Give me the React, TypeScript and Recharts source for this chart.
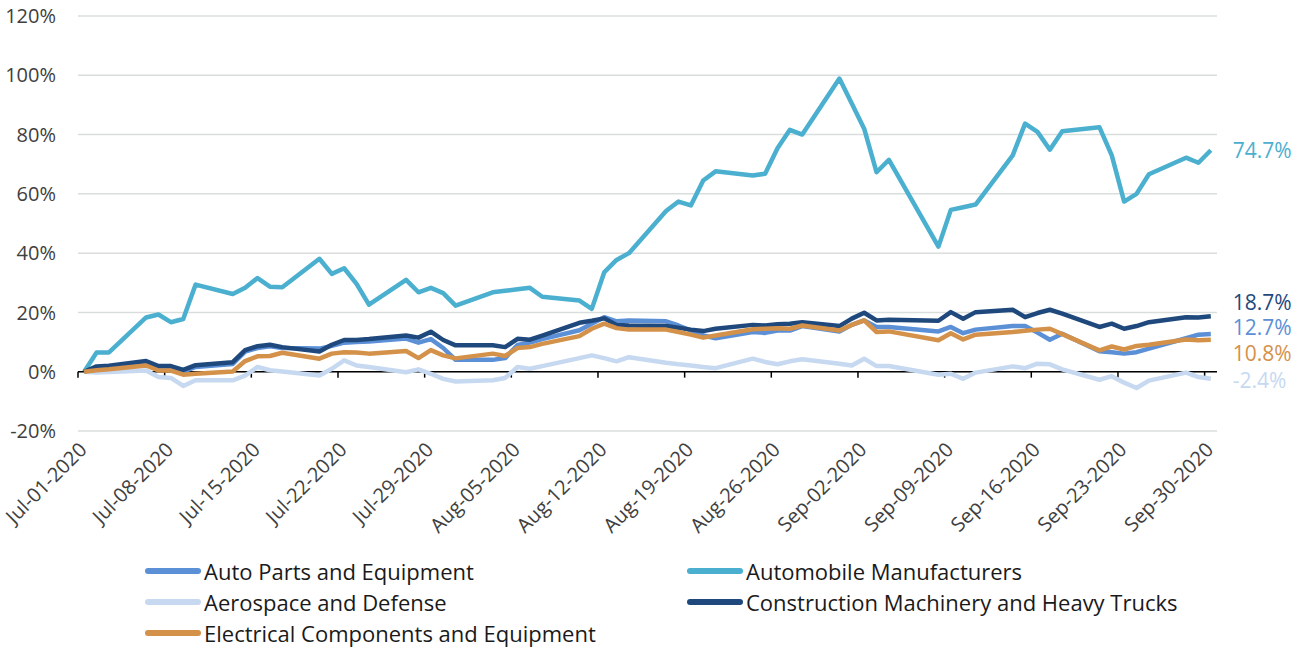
import { LineChart, Line, XAxis, YAxis, CartesianGrid, ReferenceLine } from 'recharts';

// trading days shown in the chart (Jul 3 kept, Labor Day missing)
const dates = [
  '2020-07-01', '2020-07-02', '2020-07-03', '2020-07-06', '2020-07-07', '2020-07-08', '2020-07-09', '2020-07-10',
  '2020-07-13', '2020-07-14', '2020-07-15', '2020-07-16', '2020-07-17', '2020-07-20', '2020-07-21', '2020-07-22',
  '2020-07-23', '2020-07-24', '2020-07-27', '2020-07-28', '2020-07-29', '2020-07-30', '2020-07-31',
  '2020-08-03', '2020-08-04', '2020-08-05', '2020-08-06', '2020-08-07', '2020-08-10', '2020-08-11', '2020-08-12',
  '2020-08-13', '2020-08-14', '2020-08-17', '2020-08-18', '2020-08-19', '2020-08-20', '2020-08-21', '2020-08-24',
  '2020-08-25', '2020-08-26', '2020-08-27', '2020-08-28', '2020-08-31',
  '2020-09-01', '2020-09-02', '2020-09-03', '2020-09-04', '2020-09-08', '2020-09-09', '2020-09-10', '2020-09-11',
  '2020-09-14', '2020-09-15', '2020-09-16', '2020-09-17', '2020-09-18', '2020-09-21', '2020-09-22', '2020-09-23',
  '2020-09-24', '2020-09-25', '2020-09-28', '2020-09-29', '2020-09-30',
];

const autoParts = [
  0, 1.2, 1.5, 2.8, 1.2, 1.0, 0.0, 1.6, 2.6, 6.8, 8.0, 8.6, 8.0, 7.8, 8.7, 9.8, 10.0, 10.2, 11.2, 9.8, 11.0, 8.0, 4.0,
  4.0, 4.6, 9.0, 9.8, 11.0, 14.0, 16.2, 18.4, 17.0, 17.3, 17.0, 15.6, 13.9, 12.2, 11.3, 13.4, 13.1, 13.9, 13.9, 15.4, 13.6,
  15.8, 17.3, 15.1, 15.1, 13.6, 15.1, 13.0, 14.2, 15.4, 15.4, 13.2, 10.8, 12.8, 6.9, 6.6, 6.1, 6.6, 7.8, 11.3, 12.5, 12.7,
];
const autoMakers = [
  0, 6.5, 6.5, 18.3, 19.3, 16.7, 17.8, 29.4, 26.2, 28.3, 31.6, 28.7, 28.5, 38.1, 33.0, 34.9, 29.6, 22.6, 31.0, 26.8, 28.3, 26.5, 22.3,
  26.8, 27.3, 27.8, 28.3, 25.3, 24.0, 21.2, 33.5, 37.7, 40.0, 54.2, 57.4, 56.1, 64.5, 67.6, 66.2, 66.8, 75.4, 81.6, 80.0, 98.9,
  90.5, 82.0, 67.3, 71.5, 42.2, 54.6, 55.5, 56.4, 73.0, 83.7, 80.9, 74.9, 81.1, 82.5, 73.0, 57.4, 60.0, 66.6, 72.2, 70.5, 74.7,
];
const aerospace = [
  0, -0.3, -0.1, 0.4, -1.8, -2.1, -4.8, -2.9, -2.9, -1.3, 1.6, 0.5, 0.1, -1.3, 1.0, 3.8, 2.1, 1.6, -0.2, 0.8, -0.7, -2.4, -3.3,
  -2.9, -2.1, 1.6, 1.0, 1.9, 4.6, 5.5, 4.6, 3.5, 4.9, 3.0, 2.5, 2.1, 1.6, 1.2, 4.4, 3.3, 2.5, 3.5, 4.2, 2.7,
  2.1, 4.4, 1.9, 1.9, -1.0, -0.7, -2.4, -0.3, 1.8, 1.2, 2.7, 2.5, 0.8, -2.7, -1.5, -3.7, -5.5, -3.0, -0.3, -1.8, -2.4,
];
const construction = [
  0, 1.8, 2.0, 3.6, 1.9, 1.9, 0.6, 2.2, 3.2, 7.3, 8.6, 9.1, 8.3, 6.8, 9.1, 10.7, 10.7, 11.0, 12.2, 11.5, 13.5, 10.7, 8.9,
  8.9, 8.3, 11.1, 10.8, 12.2, 16.5, 17.2, 18.0, 15.8, 15.6, 15.4, 14.8, 14.2, 13.7, 14.5, 15.8, 15.6, 16.0, 16.2, 16.7, 15.4,
  17.9, 19.9, 17.3, 17.5, 17.2, 20.1, 17.9, 20.1, 20.9, 18.4, 19.8, 20.9, 19.6, 15.1, 16.2, 14.5, 15.4, 16.7, 18.4, 18.3, 18.7,
];
const electrical = [
  0, 0.5, 0.8, 2.1, 0.4, 0.4, -1.0, -0.7, 0.1, 3.6, 5.2, 5.3, 6.4, 4.4, 6.1, 6.6, 6.5, 6.1, 7.0, 4.6, 7.3, 5.5, 4.5,
  6.1, 5.3, 8.0, 8.3, 9.4, 12.0, 14.5, 16.2, 14.7, 14.2, 14.2, 13.4, 12.5, 11.5, 12.2, 14.3, 14.5, 14.7, 14.5, 15.6, 13.9,
  15.8, 17.3, 13.4, 13.6, 10.6, 13.0, 10.9, 12.5, 13.4, 13.8, 14.2, 14.5, 12.7, 7.2, 8.5, 7.5, 8.7, 9.1, 10.9, 10.6, 10.8,
];

const weekLabels = [
  'Jul-01-2020', 'Jul-08-2020', 'Jul-15-2020', 'Jul-22-2020', 'Jul-29-2020', 'Aug-05-2020', 'Aug-12-2020',
  'Aug-19-2020', 'Aug-26-2020', 'Sep-02-2020', 'Sep-09-2020', 'Sep-16-2020', 'Sep-23-2020', 'Sep-30-2020',
];
const yTicks = [-20, 0, 20, 40, 60, 80, 100, 120];

const FONT = '"Open Sans", "Noto Sans", sans-serif';
const START = Date.UTC(2020, 6, 1);
const dayOf = (d: string) => (Date.parse(d + 'T00:00:00Z') - START) / 86400000;

const series = [
  { key: 'autoParts', name: 'Auto Parts and Equipment', color: '#5B8FD6', values: autoParts, dy: -6 },
  { key: 'autoMakers', name: 'Automobile Manufacturers', color: '#4BAFCF', values: autoMakers, dy: 0 },
  { key: 'aerospace', name: 'Aerospace and Defense', color: '#C6D9F1', values: aerospace, dy: 2 },
  { key: 'construction', name: 'Construction Machinery and Heavy Trucks', color: '#1F497D', values: construction, dy: -14 },
  { key: 'electrical', name: 'Electrical Components and Equipment', color: '#D4914A', values: electrical, dy: 14 },
];

const data = dates.map((d, i) => {
  const row: Record<string, number> = { day: dayOf(d) };
  series.forEach((s) => (row[s.key] = s.values[i]));
  return row;
});

// ticks sit on the left edge of each week's first day
const weekTicks = weekLabels.map((_, i) => i * 7 - 0.5);

const XTick = ({ x, y, payload }: any) => {
  const label = weekLabels[Math.round((payload.value + 0.5) / 7)];
  const tx = x + 10;
  const ty = y + 18;
  return (
    <text x={tx} y={ty} textAnchor="end" transform={`rotate(-45, ${tx}, ${ty})`} fontSize={20} fill="#404040">
      {label}
    </text>
  );
};

const endLabel = (color: string, dy: number) => (props: any) => {
  const { x, y, index, value } = props;
  if (index !== dates.length - 1) return <g />;
  return (
    <text x={x + 22} y={y + dy} dy="0.35em" fill={color} fontSize={21}>
      {`${Number(value).toFixed(1)}%`}
    </text>
  );
};

const legendRows = [
  [series[0], series[1]],
  [series[2], series[3]],
  [series[4]],
];

export default function App() {
  return (
    <div style={{ position: 'absolute', left: 0, top: 0, width: 1303, height: 650, background: '#fff', fontFamily: FONT }}>
      <LineChart width={1303} height={560} data={data} margin={{ top: 16, right: 86, bottom: 0, left: 8 }}>
        <CartesianGrid vertical={false} stroke="#D9DEDD" strokeWidth={1.5} />
        <XAxis
          dataKey="day"
          type="number"
          domain={[-0.5, 91.5]}
          ticks={weekTicks}
          interval={0}
          axisLine={false}
          tickLine={false}
          tickSize={0}
          height={129}
          tick={<XTick />}
        />
        <YAxis
          domain={[-20, 120]}
          ticks={yTicks}
          width={70}
          axisLine={false}
          tickLine={false}
          tickSize={0}
          tickMargin={22}
          tickFormatter={(v) => `${v}%`}
          tick={{ fontSize: 20, fill: '#404040' }}
        />
        <ReferenceLine y={0} stroke="#000" strokeWidth={1.5} />
        {weekTicks.map((t) => (
          <ReferenceLine key={t} segment={[{ x: t, y: 0 }, { x: t, y: -2 }]} stroke="#000" strokeWidth={1.5} />
        ))}
        {series.map((s) => (
          <Line
            key={s.key}
            dataKey={s.key}
            name={s.name}
            type="linear"
            stroke={s.color}
            strokeWidth={4.5}
            strokeLinejoin="round"
            dot={false}
            isAnimationActive={false}
            label={endLabel(s.color, s.dy)}
          />
        ))}
      </LineChart>
      {legendRows.map((row, r) =>
        row.map((s, c) => (
          <div
            key={s.key}
            style={{
              position: 'absolute',
              left: c === 0 ? 145 : 687,
              top: 572 + r * 31 - 15,
              height: 28,
              display: 'flex',
              alignItems: 'center',
              fontSize: 22,
              color: '#1a1a1a',
              whiteSpace: 'nowrap',
            }}
          >
            <span style={{ display: 'inline-block', width: 56, height: 6, borderRadius: 3, background: s.color, marginRight: 3 }} />
            {s.name}
          </div>
        ))
      )}
    </div>
  );
}
